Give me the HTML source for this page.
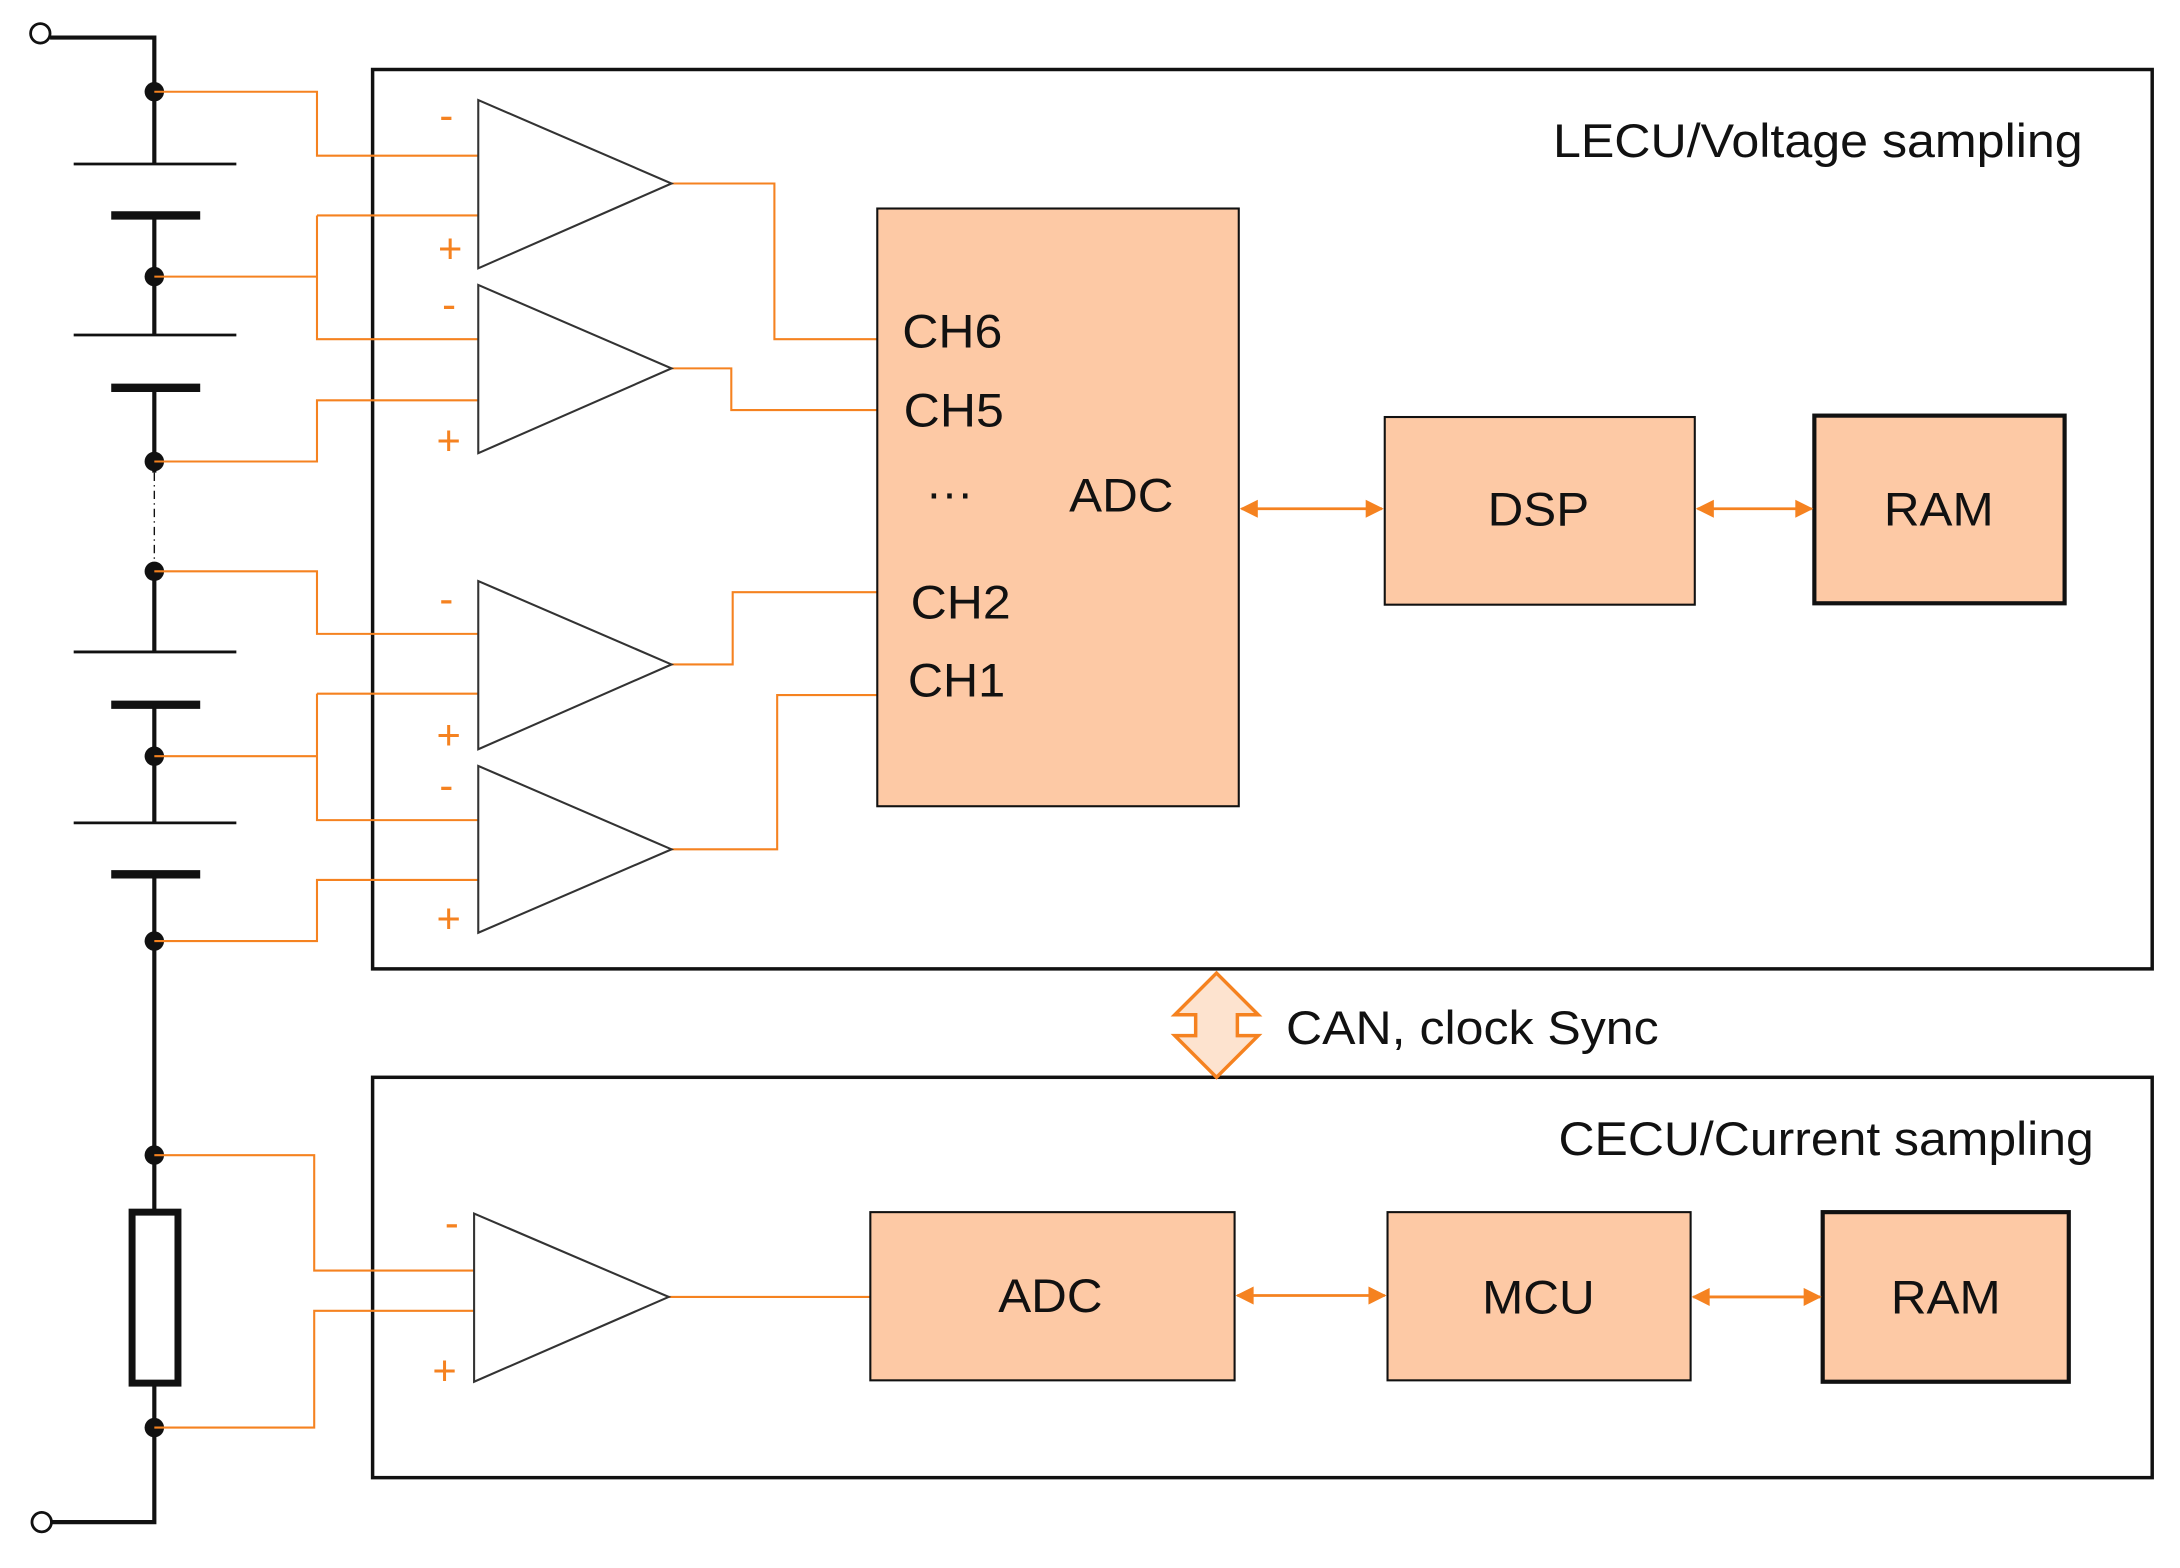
<!DOCTYPE html>
<html><head><meta charset="utf-8"><style>
html,body{margin:0;padding:0;background:#fff;}
svg{display:block;}
text{font-family:"Liberation Sans",Arial,sans-serif;fill:#111;}
</style></head><body>
<svg width="2180" height="1568" viewBox="0 0 1568 1128" preserveAspectRatio="none" xmlns="http://www.w3.org/2000/svg">
<defs>
<marker id="a" viewBox="0 0 10 10" refX="9" refY="5" markerWidth="15" markerHeight="13" orient="auto-start-reverse" markerUnits="userSpaceOnUse"><path d="M0,0L10,5L0,10z" fill="#f58220"/></marker>
</defs>
<rect x="268" y="50" width="1280" height="647" fill="none" stroke="#111" stroke-width="2.5"/>
<rect x="268" y="775" width="1280" height="288" fill="none" stroke="#111" stroke-width="2.5"/>
<g stroke="#111" stroke-width="3" fill="none">
<path d="M36,27H111V118M111,155V241M111,279V340M111,411V469M111,507V592M111,629V872M111,995V1095H36"/>
<path d="M111,340V411" stroke-width="1" stroke-dasharray="6,3,1,3"/>
<path d="M53,118H170M53,241H170M53,469H170M53,592H170" stroke-width="2"/>
<path d="M80,155H144M80,279H144M80,507H144M80,629H144" stroke-width="6"/>
<rect x="95" y="872" width="33" height="123" stroke-width="5"/>
<circle cx="29" cy="24" r="7" fill="#fff" stroke-width="2"/>
<circle cx="30" cy="1095" r="7" fill="#fff" stroke-width="2"/>
</g>
<g fill="#111">
<circle cx="111" cy="66" r="7"/><circle cx="111" cy="199" r="7"/><circle cx="111" cy="332" r="7"/><circle cx="111" cy="411" r="7"/><circle cx="111" cy="544" r="7"/><circle cx="111" cy="677" r="7"/><circle cx="111" cy="831" r="7"/><circle cx="111" cy="1027" r="7"/>
</g>
<g stroke="#f58220" stroke-width="1.5" fill="none">
<path d="M111,66H228V112H344"/>
<path d="M111,199H228M228,155H344M228,155V244H344"/>
<path d="M111,332H228V288H344"/>
<path d="M111,411H228V456H344"/>
<path d="M111,544H228M228,499H344M228,499V590H344"/>
<path d="M111,677H228V633H344"/>
<path d="M483,132H557V244H631"/>
<path d="M483,265H526V295H631"/>
<path d="M483,478H527V426H631"/>
<path d="M483,611H559V500H631"/>
<path d="M111,831H226V914H341M111,1027H226V943H341"/>
<path d="M481,933H626"/>
</g>
<g fill="#fff" stroke="#333" stroke-width="1.5">
<path d="M344,72V193L483,132Z"/><path d="M344,205V326L483,265Z"/><path d="M344,418V539L483,478Z"/><path d="M344,551V671L483,611Z"/><path d="M341,873V994L481,933Z"/>
</g>
<g font-size="30">
<text x="316" y="93" style="fill:#f58220">-</text><text x="315" y="189" style="fill:#f58220">+</text>
<text x="318" y="229" style="fill:#f58220">-</text><text x="314" y="327" style="fill:#f58220">+</text>
<text x="316" y="441" style="fill:#f58220">-</text><text x="314" y="539" style="fill:#f58220">+</text>
<text x="316" y="575" style="fill:#f58220">-</text><text x="314" y="671" style="fill:#f58220">+</text>
<text x="320" y="890" style="fill:#f58220">-</text><text x="311" y="996" style="fill:#f58220">+</text>
</g>
<g fill="#fdc9a5" stroke="#111">
<rect x="631" y="150" width="260" height="430" stroke-width="1.5"/>
<rect x="996" y="300" width="223" height="135" stroke-width="1.5"/>
<rect x="1305" y="299" width="180" height="135" stroke-width="3"/>
<rect x="626" y="872" width="262" height="121" stroke-width="1.5"/>
<rect x="998" y="872" width="218" height="121" stroke-width="1.5"/>
<rect x="1311" y="872" width="177" height="122" stroke-width="3"/>
</g>
<g stroke="#f58220" stroke-width="2" marker-start="url(#a)" marker-end="url(#a)">
<path d="M893,366H994"/><path d="M1221,366H1303"/>
<path d="M890,932H996"/><path d="M1218,933H1309"/>
</g>
<path d="M875,700L905,730H890V745H905L875,775L845,745H860V730H845Z" fill="#fde3cf" stroke="#f58220" stroke-width="2.5"/>
<g font-size="34">
<text x="649" y="250" textLength="72" lengthAdjust="spacingAndGlyphs">CH6</text>
<text x="650" y="307" textLength="72" lengthAdjust="spacingAndGlyphs">CH5</text>
<text x="666" y="366">···</text>
<text x="769" y="368" textLength="75" lengthAdjust="spacingAndGlyphs">ADC</text>
<text x="655" y="445" textLength="72" lengthAdjust="spacingAndGlyphs">CH2</text>
<text x="653" y="501" textLength="70" lengthAdjust="spacingAndGlyphs">CH1</text>
<text x="1070" y="378" textLength="73" lengthAdjust="spacingAndGlyphs">DSP</text>
<text x="1355" y="378" textLength="79" lengthAdjust="spacingAndGlyphs">RAM</text>
<text x="718" y="944" textLength="75" lengthAdjust="spacingAndGlyphs">ADC</text>
<text x="1066" y="945" textLength="81" lengthAdjust="spacingAndGlyphs">MCU</text>
<text x="1360" y="945" textLength="79" lengthAdjust="spacingAndGlyphs">RAM</text>
<text x="1117" y="113" textLength="381" lengthAdjust="spacingAndGlyphs">LECU/Voltage sampling</text>
<text x="1121" y="831" textLength="385" lengthAdjust="spacingAndGlyphs">CECU/Current sampling</text>
<text x="925" y="751" textLength="268" lengthAdjust="spacingAndGlyphs">CAN, clock Sync</text>
</g>
</svg>
</body></html>
